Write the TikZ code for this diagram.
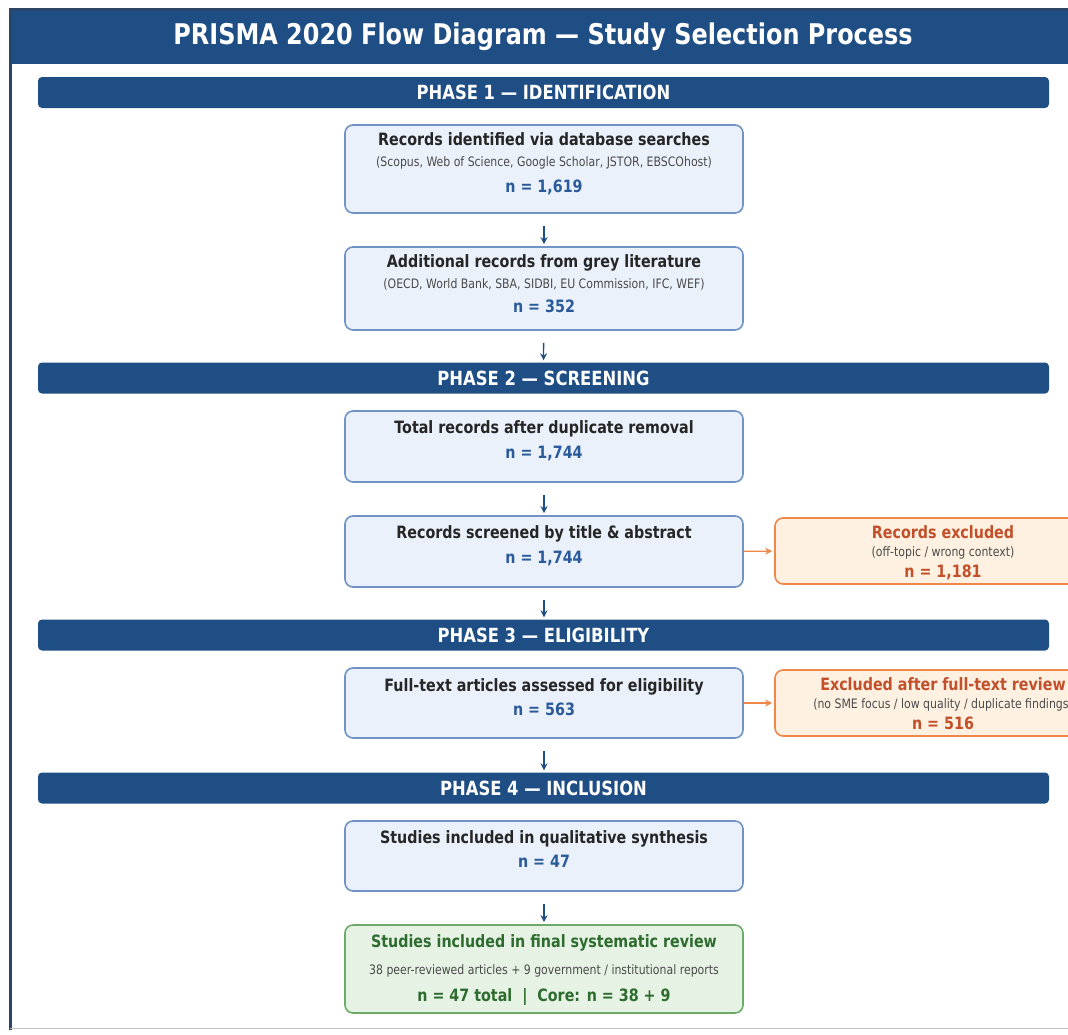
\documentclass[tikz,border=0pt]{standalone}
\usepackage{fontspec}
\setmainfont{DejaVu Sans}[FakeStretch=0.84]
\usetikzlibrary{arrows.meta,positioning}

\definecolor{navy}{HTML}{1F4E85}
\definecolor{frame}{HTML}{2C4566}
\definecolor{boxfill}{HTML}{EAF1FB}
\definecolor{boxedge}{HTML}{6E93C4}
\definecolor{nblue}{HTML}{2A5A9A}
\definecolor{subgrey}{HTML}{4A4A4A}
\definecolor{exfill}{HTML}{FEF1E1}
\definecolor{exedge}{HTML}{F0874A}
\definecolor{extext}{HTML}{C2502A}
\definecolor{okfill}{HTML}{E6F3E4}
\definecolor{okedge}{HTML}{6DAA6A}
\definecolor{oktext}{HTML}{2E6B2E}

\tikzset{
    phase/.style={fill=navy, rounded corners=4pt, minimum width=1011pt, minimum height=31pt,
        text=white, font=\fontsize{19.5}{22}\selectfont\bfseries},
    stepbox/.style={draw=boxedge, fill=boxfill, line width=1.6pt, rounded corners=8pt,
        minimum width=398pt},
    exbox/.style={draw=exedge, fill=exfill, line width=1.6pt, rounded corners=8pt,
        minimum width=336pt, minimum height=66pt},
    okbox/.style={draw=okedge, fill=okfill, line width=1.6pt, rounded corners=8pt,
        minimum width=398pt},
    boxtext/.style={align=center, text=black!85, inner sep=0pt, font=\fontsize{17}{20}\selectfont\bfseries},
    flow/.style={navy, line width=1.3pt, -{Stealth[length=7pt,width=7pt]}, shorten <=12pt, shorten >=2pt},
    exflow/.style={exedge, line width=1.3pt, -{Stealth[length=7pt,width=7pt]}, shorten >=2pt}
}
\newcommand{\subln}[1]{{\fontsize{13}{15}\selectfont\mdseries\color{subgrey}#1}}
\newcommand{\nln}[1]{{\color{nblue}#1}}

\begin{document}
\begin{tikzpicture}[x=1pt,y=-1pt]
    \useasboundingbox (0,0) rectangle (1068,1034);
    \clip (0,0) rectangle (1068,1034);
    % frame and title
    \fill[navy] (10,9) rectangle (1070,64);
    \draw[frame, line width=3pt] (10,1030) -- (10,9) -- (1070,9);
    \draw[black!25, line width=1pt] (10,1028.5) -- (1070,1028.5);
    \node[text=white, font=\fontsize{28.5}{32}\selectfont\bfseries] (title) at (543,37)
        {PRISMA 2020 Flow Diagram — Study Selection Process};

    % phase bars
    \node[phase] (ph1) at (543.5,92.5) {PHASE 1 — IDENTIFICATION};
    \node[phase] (ph2) at (543.5,378) {PHASE 2 — SCREENING};
    \node[phase] (ph3) at (543.5,635) {PHASE 3 — ELIGIBILITY};
    \node[phase] (ph4) at (543.5,788) {PHASE 4 — INCLUSION};

    % main column
    \node[stepbox, minimum height=88pt] (ident) at (544,169) {};
    \node[boxtext] (identtxt) at ([yshift=5pt]ident.center)
        {Records identified via database searches\\[1pt]
         \subln{(Scopus, Web of Science, Google Scholar, JSTOR, EBSCOhost)}\\[6pt]
         \nln{n = 1,619}};
    \node[stepbox, minimum height=83pt] (grey) at (544,288.5) {};
    \node[boxtext] (greytxt) at ([yshift=5pt]grey.center)
        {Additional records from grey literature\\[1pt]
         \subln{(OECD, World Bank, SBA, SIDBI, EU Commission, IFC, WEF)}\\[4pt]
         \nln{n = 352}};
    \node[stepbox, minimum height=71pt] (dedup) at (544,446.5) {};
    \node[boxtext] (deduptxt) at ([yshift=6pt]dedup.center)
        {Total records after duplicate removal\\[5pt]\nln{n = 1,744}};
    \node[stepbox, minimum height=71pt] (screen) at (544,551.5) {};
    \node[boxtext] (screentxt) at ([yshift=6pt]screen.center)
        {Records screened by title \& abstract\\[5pt]\nln{n = 1,744}};
    \node[stepbox, minimum height=70pt] (full) at (544,703) {};
    \node[boxtext] (fulltxt) at ([yshift=6pt]full.center)
        {Full-text articles assessed for eligibility\\[4pt]\nln{n = 563}};
    \node[stepbox, minimum height=70pt] (synth) at (544,856) {};
    \node[boxtext] (synthtxt) at ([yshift=7pt]synth.center)
        {Studies included in qualitative synthesis\\[4pt]\nln{n = 47}};
    \node[okbox, minimum height=88pt] (final) at (544,969) {};
    \node[boxtext, text=oktext] (finaltxt) at ([yshift=-1.5pt]final.center)
        {Studies included in final systematic review\\[7pt]
         \subln{38 peer-reviewed articles + 9 government / institutional reports}\\[7pt]
         n = 47 total \ | \ Core: n = 38 + 9};

    % exclusion boxes
    \node[exbox] (excl) at (943,551) {};
    \node[boxtext, text=extext] (excltxt) at ([yshift=-2pt]excl.center)
        {Records excluded\\[-2pt]
         \subln{(off-topic / wrong context)}\\[1pt]
         n = 1,181};
    \node[exbox] (exft) at (943,703) {};
    \node[boxtext, text=extext] (exfttxt) at ([yshift=-1pt]exft.center)
        {Excluded after full-text review\\[-2pt]
         \subln{(no SME focus / low quality / duplicate findings)}\\[1pt]
         n = 516};

    % arrows
    \draw[flow] (ident) -- (grey);
    \draw[flow] (grey) -- (ph1 |- ph2.north);
    \draw[flow] (dedup) -- (screen);
    \draw[flow] (screen) -- (screen |- ph3.north);
    \draw[flow] (full) -- (full |- ph4.north);
    \draw[flow] (synth) -- (final);
    \draw[exflow] (screen) -- (excl);
    \draw[exflow] (full) -- (exft);
\end{tikzpicture}
\end{document}
